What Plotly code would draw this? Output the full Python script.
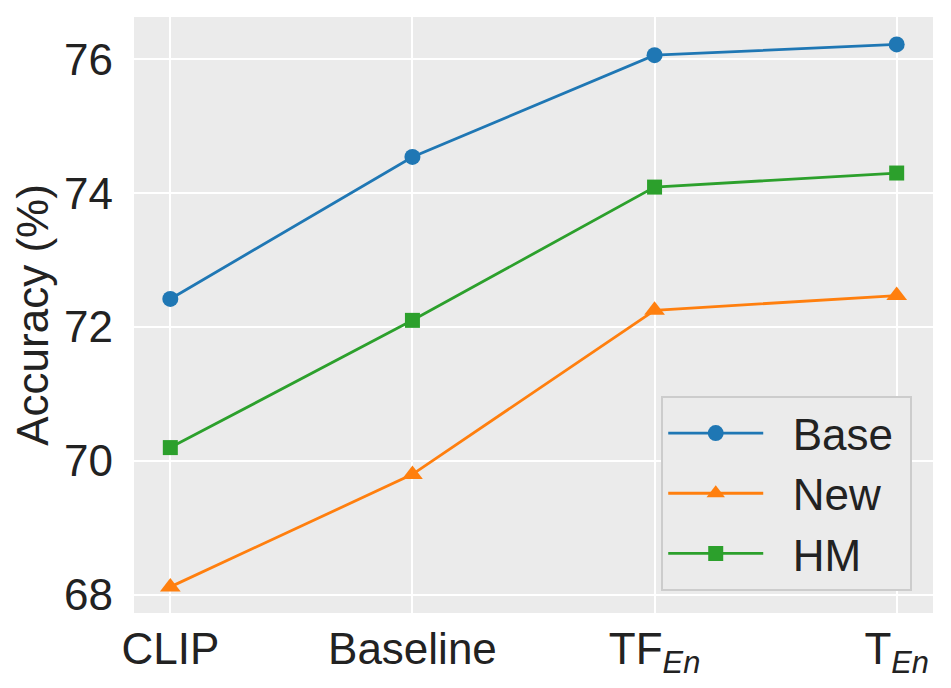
import plotly.graph_objects as go

categories = ["CLIP", "Baseline", "TF<sub><i>En</i></sub>", "T<sub><i>En</i></sub>"]
series_names = ["Base", "New", "HM"]
base_vals = [72.42, 74.54, 76.06, 76.22]
new_vals = [68.12, 69.80, 72.25, 72.47]
hm_vals = [70.20, 72.10, 74.09, 74.30]
y_ticks = [68, 70, 72, 74, 76]

x_idx = list(range(len(categories)))
FONT = "Liberation Sans, Arial, sans-serif"
TXT = "#222222"

fig = go.Figure()
styles = [
    ("#1f77b4", "circle", 16),
    ("#ff7f0e", "triangle-up", 18),
    ("#2ca02c", "square", 15),
]
for name, vals, (color, sym, size) in zip(series_names, [base_vals, new_vals, hm_vals], styles):
    fig.add_trace(go.Scatter(
        x=x_idx, y=vals, name="  " + name + " ", mode="lines+markers",
        line=dict(color=color, width=2.8),
        marker=dict(symbol=sym, size=size, color=color, line=dict(width=0)),
    ))

fig.update_layout(
    width=943, height=680,
    margin=dict(l=126, r=18, t=9, b=75, autoexpand=False),
    paper_bgcolor="white",
    plot_bgcolor="#EBEBEB",
    font=dict(family=FONT, size=44, color=TXT),
    showlegend=True,
    legend=dict(
        x=0.974, y=0.037, xanchor="right", yanchor="bottom",
        bgcolor="#EBEBEB", bordercolor="#CCCCCC", borderwidth=2,
        font=dict(size=44, color=TXT, family=FONT),
        itemwidth=95, tracegroupgap=0,
    ),
)
fig.update_xaxes(
    tickmode="array", tickvals=x_idx, ticktext=categories,
    range=[-0.15, 3.15], showgrid=True, gridcolor="white", gridwidth=2,
    zeroline=False, showline=False, ticks="", automargin=False,
    ticklabelstandoff=6,
    tickfont=dict(size=44, family=FONT, color=TXT),
)
fig.update_yaxes(
    tickmode="array", tickvals=y_ticks, ticktext=[str(v) for v in y_ticks],
    range=[67.73, 76.63], showgrid=True, gridcolor="white", gridwidth=2,
    zeroline=False, showline=False, ticks="", automargin=False,
    ticklabelstandoff=20,
    tickfont=dict(size=44, family=FONT, color=TXT),
    title=dict(text="Accuracy (%)", font=dict(size=44, family=FONT, color=TXT), standoff=14),
)

fig.write_html("out.html")
